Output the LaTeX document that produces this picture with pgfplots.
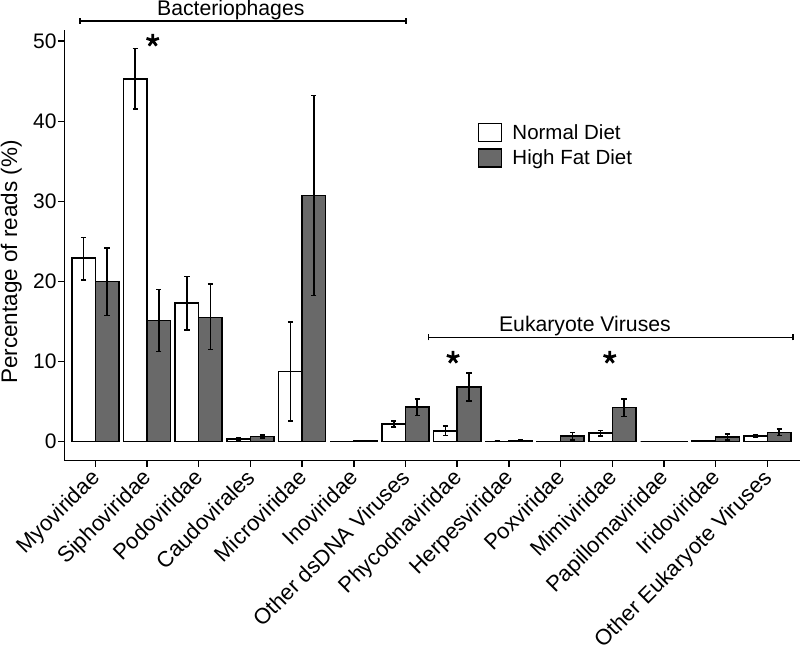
\documentclass[border=0pt]{standalone}
\usepackage{pgfplots}
\pgfplotsset{compat=1.18}
\usepackage{pgfplotstable}
\usepackage{fontspec}
\setmainfont{Liberation Sans}
\definecolor{hfgray}{RGB}{105,105,105}

\pgfplotstableread{
x y ep em
-0.2275 22.9 2.6 2.7
0.7725 45.3 3.8 3.8
1.7725 17.3 3.3 3.35
2.7725 0.33 0.12 0.12
3.7725 8.75 6.2 6.2
4.7725 0.02 0 0
5.7725 2.2 0.35 0.4
6.7725 1.33 0.6 0.6
7.7725 0.03 0 0
8.7725 0.02 0 0
9.7725 1.04 0.35 0.38
10.7725 0.0 0 0
11.7725 0.05 0.03 0.03
12.7725 0.7 0.14 0.14
}\normaldiet

\pgfplotstableread{
x y ep em
0.2275 20.0 4.2 4.25
1.2275 15.1 3.9 3.85
2.2275 15.5 4.2 4.0
3.2275 0.6 0.2 0.2
4.2275 30.75 12.45 12.5
5.2275 0.05 0 0
6.2275 4.3 1.03 1.05
7.2275 6.83 1.72 1.75
8.2275 0.15 0.05 0.05
9.2275 0.7 0.42 0.48
10.2275 4.25 1.08 1.12
11.2275 0.02 0 0
12.2275 0.54 0.36 0.34
13.2275 1.12 0.42 0.37
}\highfat

\begin{document}
\begin{tikzpicture}
\begin{axis}[
  scale only axis,
  width=735.7pt, height=430.7pt,
  xmin=-0.6, xmax=13.63,
  ymin=-2.4, ymax=51.4,
  clip=false,
  axis x line*=bottom, axis y line*=left,
  axis line style={line width=1.5pt, -},
  tick align=outside,
  major tick length=6pt,
  tick style={line width=1.5pt, black},
  ytick={0,10,20,30,40,50},
  xtick={0,...,13},
  xticklabels={Myoviridae,Siphoviridae,Podoviridae,Caudovirales,Microviridae,Inoviridae,Other dsDNA Viruses,Phycodnaviridae,Herpesviridae,Poxviridae,Mimiviridae,Papillomaviridae,Iridoviridae,Other Eukaryote Viruses},
  /pgf/number format/assume math mode=true,
  yticklabel style={font=\fontsize{21}{22}\selectfont, inner sep=1.5pt},
  xticklabel style={font=\fontsize{22}{23}\selectfont, xshift=-5.7pt, yshift=-1pt, rotate=45, anchor=north east, inner sep=0pt},
  ylabel={Percentage of reads (\%)},
  every axis y label/.style={at={(rel axis cs:0,0.4613)}, xshift=-63.8pt, rotate=90, anchor=north, inner sep=0pt, font=\fontsize{22.5}{23}\selectfont},
  ybar, bar width=0.455, bar shift=0pt,
  legend image code/.code={\draw[#1, line width=1.5pt] (0pt,-9pt) rectangle (23pt,9pt);},
  legend style={at={(rel axis cs:0.562,0.786)}, anchor=north west, draw=none, fill=none,
    font=\fontsize{20.5}{21}\selectfont, row sep=5pt, column sep=8pt, inner sep=0pt},
  legend cell align=left,
  error bars/error bar style={line width=1.6pt, black},
  error bars/error mark options={rotate=90, mark size=2.6pt, line width=1.6pt, black},
]
\addplot[draw=black, fill=white, line width=1.5pt,
  error bars/.cd, y dir=both, y explicit]
  table[x=x, y=y, y error plus=ep, y error minus=em] {\normaldiet};
\addlegendentry{Normal Diet}
\addplot[draw=black, fill=hfgray, line width=1.5pt,
  error bars/.cd, y dir=both, y explicit]
  table[x=x, y=y, y error plus=ep, y error minus=em] {\highfat};
\addlegendentry{High Fat Diet}
\addplot[forget plot, only marks, mark=star, mark size=6.5pt, line width=2.8pt, black]
  coordinates {(1.11,50.1) (6.92,10.5) (9.95,10.5)};
% brackets
\draw[line width=1.5pt] (axis cs:-0.3,52.55) -- (axis cs:6.01,52.55);
\draw[line width=1.5pt] ([yshift=-3pt]axis cs:-0.3,52.55) -- ([yshift=3pt]axis cs:-0.3,52.55);
\draw[line width=1.5pt] ([yshift=-3pt]axis cs:6.01,52.55) -- ([yshift=3pt]axis cs:6.01,52.55);
\node[anchor=base, font=\fontsize{21.2}{22}\selectfont, inner sep=0pt] at (axis cs:2.62,53.2) {Bacteriophages};
\draw[line width=1.5pt] (axis cs:6.44,13.0) -- (axis cs:13.49,13.0);
\draw[line width=1.5pt] ([yshift=-3pt]axis cs:6.44,13.0) -- ([yshift=3pt]axis cs:6.44,13.0);
\draw[line width=1.5pt] ([yshift=-3pt]axis cs:13.49,13.0) -- ([yshift=3pt]axis cs:13.49,13.0);
\node[anchor=base, font=\fontsize{21.2}{22}\selectfont, inner sep=0pt] at (axis cs:9.47,13.75) {Eukaryote Viruses};
\end{axis}
\pgfresetboundingbox
\path[use as bounding box] (-64.3pt,-188.3pt) rectangle (735.7pt,460.7pt);
\end{tikzpicture}
\end{document}
